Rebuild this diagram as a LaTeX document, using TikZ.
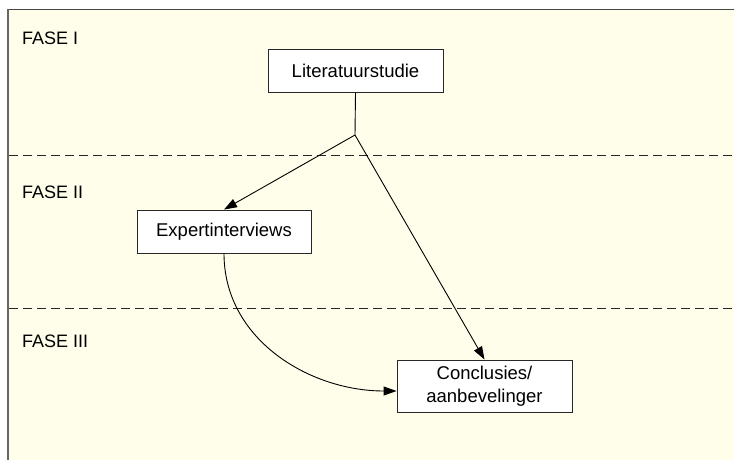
\documentclass[tikz,border=0pt]{standalone}
\usepackage{fontspec}
\setmainfont{Liberation Sans}
\usetikzlibrary{arrows.meta}

\definecolor{paper}{RGB}{254,254,234}
\definecolor{frameline}{RGB}{70,70,70}
\definecolor{boxline}{RGB}{40,40,40}

\tikzset{
  phasebox/.style={draw=boxline, line width=0.9pt, fill=white,
    font=\fontsize{18.5}{23}\selectfont, align=center, inner sep=0pt},
  phaselabel/.style={anchor=base west, inner sep=0pt,
    font=\fontsize{18}{21}\selectfont},
  flow/.style={line width=0.9pt, -{Triangle[length=13pt,width=9pt]}},
  plain/.style={line width=0.9pt},
  divider/.style={line width=0.9pt, dash pattern=on 9pt off 5pt, black!85},
}

\begin{document}
\begin{tikzpicture}[x=1pt, y=-1pt]
  \useasboundingbox (0,0) rectangle (734,460);

  % sheet with its frame
  \fill[paper] (8,9) rectangle (734,460);
  \draw[frameline, line width=1.4pt] (8,9.5) -- (734,9.5);
  \draw[black!60, line width=2pt] (8,9) -- (8,460);

  % phase dividers
  \draw[divider] (9,155) -- (734,155);
  \draw[divider] (9,308) -- (734,308);

  % phase labels
  \node[phaselabel] (f1) at (22,45) {FASE I};
  \node[phaselabel] (f2) at (22,198) {FASE II};
  \node[phaselabel] (f3) at (22,347) {FASE III};

  % process steps
  \node[phasebox, minimum width=175pt, minimum height=43pt] (lit) at (355.5,71) {Literatuurstudie};
  \node[phasebox, minimum width=174pt, minimum height=43pt] (exp) at (224,231.5) {Expertinterviews};
  \node[phasebox, minimum width=175pt, minimum height=52pt] (con) at (484.5,386) {Conclusies/\\aanbevelinger};

  \coordinate (split) at (355,135);

  % connectors
  \draw[plain] (lit.south) -- (split);
  \draw[flow] (split) -- (exp.north);
  \draw[flow] (split) -- (con.north);
  \draw[flow] (exp.south) to[out=-90, in=180] ([yshift=-5pt]con.west);
\end{tikzpicture}
\end{document}
